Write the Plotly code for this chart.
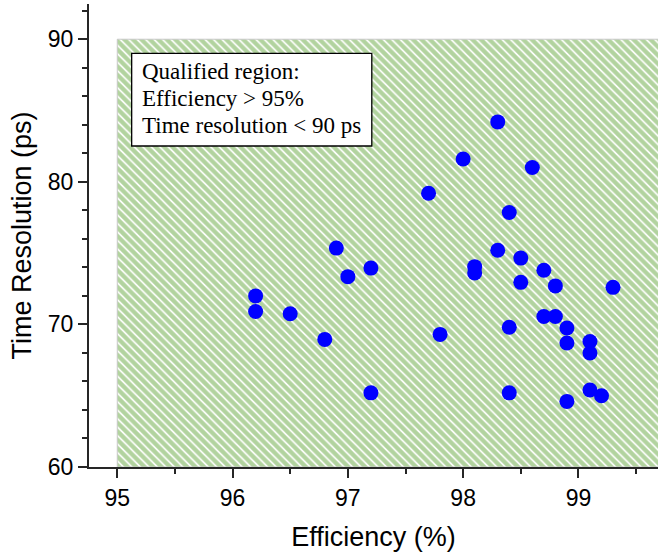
import plotly.graph_objects as go

# Measured detectors: efficiency (%) and time resolution (ps)
efficiency = [96.2, 96.2, 96.5, 96.8, 96.9, 97.0, 97.2, 97.2, 97.7, 97.8,
              98.0, 98.1, 98.1, 98.3, 98.3, 98.4, 98.4, 98.4, 98.5, 98.5,
              98.6, 98.7, 98.7, 98.8, 98.8, 98.9, 98.9, 98.9, 99.1, 99.1,
              99.1, 99.2, 99.3]
time_resolution = [72.0, 70.9, 70.75, 68.95, 75.35, 73.35, 73.95, 65.2, 79.2, 69.3,
                   81.6, 74.05, 73.6, 84.2, 75.2, 77.85, 69.8, 65.2, 74.65, 72.95,
                   81.0, 73.8, 70.55, 72.7, 70.55, 69.75, 68.7, 64.6, 68.8, 68.0,
                   65.4, 65.0, 72.6]

# Qualified region limits
eff_min, eff_max = 95.0, 100.0
tr_min, tr_max = 60.0, 90.0

box_lines = ["Qualified region:", "Efficiency > 95%", "Time resolution < 90 ps"]

x_ticks = [95, 96, 97, 98, 99]
y_ticks = [60, 70, 80, 90]

fig = go.Figure()

# Hatched qualified region
fig.add_trace(go.Scatter(
    x=[eff_min, eff_max, eff_max, eff_min, eff_min],
    y=[tr_min, tr_min, tr_max, tr_max, tr_min],
    mode="lines",
    fill="toself",
    fillcolor="white",
    fillpattern=dict(shape="\\", fgcolor="#66a840", bgcolor="white",
                     size=6, solidity=0.72),
    line=dict(color="#c8c8c8", width=1),
    hoverinfo="skip",
    showlegend=False,
))

fig.add_trace(go.Scatter(
    x=efficiency,
    y=time_resolution,
    mode="markers",
    marker=dict(color="#0000ff", size=15, line=dict(width=0)),
    showlegend=False,
))

# Legend-like text box
fig.add_shape(type="rect", xref="paper", yref="paper",
              x0=0.075, x1=0.497, y0=0.6933, y1=0.8935,
              line=dict(color="black", width=1.3), fillcolor="white", layer="above")

line_y = [0.855, 0.796, 0.737]
for txt, yy in zip(box_lines, line_y):
    fig.add_annotation(xref="paper", yref="paper", x=0.090, y=yy,
                       xanchor="left", yanchor="middle", text=txt, showarrow=False,
                       font=dict(family="Liberation Serif, Times New Roman, serif",
                                 size=23, color="black"))

axis_font = dict(family="Liberation Sans, Arial, sans-serif", size=23, color="black")
title_font = dict(family="Liberation Sans, Arial, sans-serif", size=27, color="black")

fig.update_xaxes(
    range=[94.755, 99.69],
    tickvals=x_ticks,
    ticktext=[str(v) for v in x_ticks],
    ticks="outside", ticklen=9, tickwidth=2, tickcolor="#262626",
    minor=dict(dtick=0.5, tick0=95, ticks="outside", ticklen=5, tickwidth=2,
               tickcolor="#262626", showgrid=False),
    showline=True, linecolor="#262626", linewidth=2,
    showgrid=False, zeroline=False,
    tickfont=axis_font,
    title=dict(text="Efficiency (%)", font=title_font, standoff=18),
)
fig.update_yaxes(
    range=[60, 92.47],
    tickvals=y_ticks,
    ticktext=[str(v) for v in y_ticks],
    ticks="outside", ticklen=9, tickwidth=2, tickcolor="#262626",
    minor=dict(dtick=2, tick0=60, ticks="outside", ticklen=5, tickwidth=2,
               tickcolor="#262626", showgrid=False),
    showline=True, linecolor="#262626", linewidth=2,
    showgrid=False, zeroline=False,
    tickfont=axis_font,
    title=dict(text="Time Resolution (ps)", font=title_font, standoff=8),
)

fig.update_layout(
    width=658, height=555,
    margin=dict(l=89, r=0, t=4, b=88),
    paper_bgcolor="white",
    plot_bgcolor="white",
    showlegend=False,
)

fig.write_html("out.html")
